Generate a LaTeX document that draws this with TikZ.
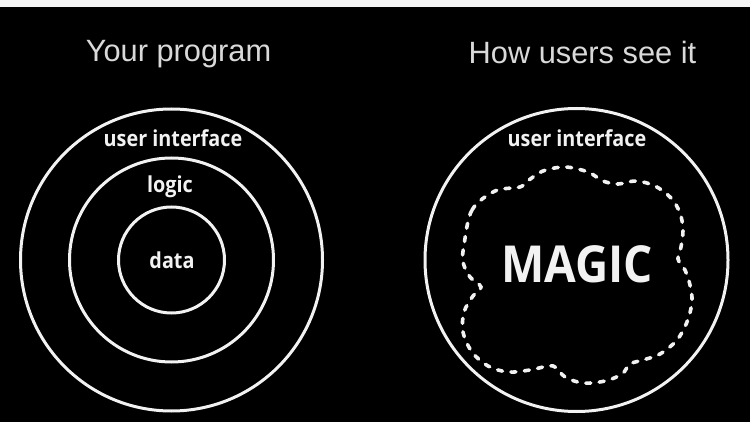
\documentclass[tikz,border=0pt]{standalone}
\usepackage{fontspec}
\setmainfont{Liberation Sans}
\newfontfamily\labelfont[FakeStretch=0.9]{Open Sans}
\begin{document}
\begin{tikzpicture}[x=1pt,y=-1pt,
  ring/.style={draw=white!95!black, line width=3pt},
  title/.style={text=white!85!black, font=\fontsize{30.8}{32}\selectfont, anchor=base, inner sep=0pt},
  layer/.style={text=white!95!black, font=\labelfont\bfseries\fontsize{22}{24}\selectfont, anchor=base, inner sep=0pt},
  cloudline/.style={draw=white!95!black, line width=3.6pt, line cap=round, dash pattern=on 5pt off 8.5pt}]
  % canvas: thin light strip on top, black below
  \useasboundingbox (0,0) rectangle (750,422);
  \fill[black] (0,0) rectangle (750,422);
  \fill[white!96!black] (0,0) rectangle (750,7);

  % titles
  \node[title] (t1) at (178.5,62) {Your program};
  \node[title] (t2) at (582.5,64) {How users see it};

  % left: nested layers
  \coordinate (lc) at (171.5,260);
  \draw[ring] (lc) circle[radius=151];
  \draw[ring] (lc) circle[radius=102];
  \draw[ring] (lc) circle[radius=53];
  \node[layer] (ui1) at (173,147) {user interface};
  \node[layer] (lg) at (170,193) {logic};
  \node[layer] (dt) at (172,269) {data};

  % right: the outer layer around a fuzzy cloud
  \coordinate (rc) at (576.5,260);
  \draw[ring] (rc) circle[radius=151.5];
  \node[layer] (ui2) at (577,147) {user interface};
  \draw[cloudline] plot[smooth cycle, tension=0.55] coordinates {
    (464,245) (472,210) (495,191) (520,187) (529,180) (543,171) (565,167)
    (588,172) (603,181) (618,184) (636,181) (655,186) (671,198) (680,213)
    (683,230) (681,247) (678,259) (685,270) (690,285) (692,302) (687,322)
    (677,340) (660,354) (643,360) (630,364) (622,374) (605,381) (583,383)
    (565,377) (553,366) (530,370) (508,372) (488,366) (472,352) (463,332)
    (464,312) (473,296) (481,287) (470,277) (463,262)};
  \node[text=white!95!black, font=\labelfont\bfseries\fontsize{51}{52}\selectfont, anchor=base, inner sep=0pt] (mg) at (577,283) {MAGIC};
\end{tikzpicture}
\end{document}
